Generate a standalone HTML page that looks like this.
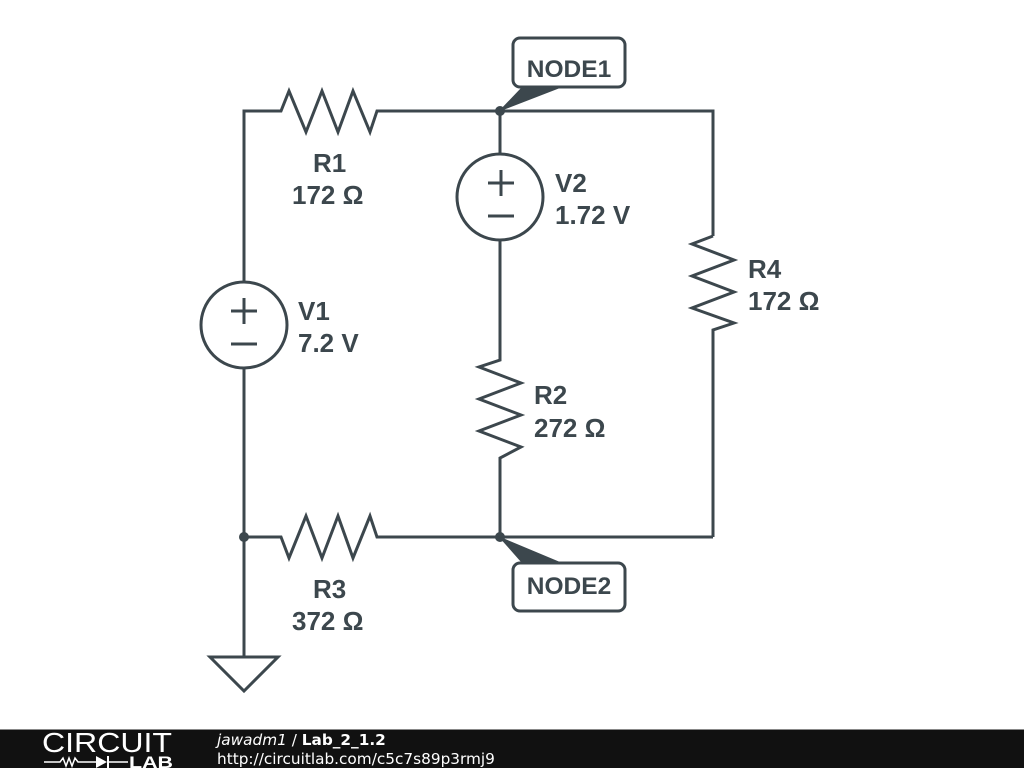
<!DOCTYPE html>
<html><head><meta charset="utf-8"><style>
body{margin:0;width:1024px;height:768px;background:#fff;overflow:hidden;font-family:"Liberation Sans",sans-serif}
</style></head><body>
<svg width="1024" height="768" xmlns="http://www.w3.org/2000/svg" style="position:absolute;left:0;top:0">
<g stroke="#3c474d" stroke-width="3" fill="none" stroke-linejoin="miter">
<polyline points="244,283 244,111 281,111 289,91 306,132 322,91 338,132 353,91 370,132 377,111 713,111 713,236"/>
<polyline points="713,236 692,244 734,260 692,276 734,292 692,308 734,323 713,330 713,537"/>
<polyline points="713,537 500,537"/>
<polyline points="500,537 377,537 370,516 353,558 338,516 322,558 306,516 289,558 281,537 244,537"/>
<polyline points="244,368 244,656"/>
<polyline points="500,111 500,154"/>
<polyline points="500,240 500,360 479,367 521,383 479,399 521,415 479,431 521,447 500,458 500,537"/>
<circle cx="500" cy="197" r="43"/>
<circle cx="244" cy="325" r="43"/>
<polygon points="210,657 278,657 244,691"/>
<line x1="488" y1="183" x2="514" y2="183"/><line x1="501" y1="170" x2="501" y2="196"/>
<line x1="488" y1="216" x2="514" y2="216"/>
<line x1="231" y1="311" x2="257" y2="311"/><line x1="244" y1="298" x2="244" y2="324"/>
<line x1="231" y1="344" x2="257" y2="344"/>
<rect x="513" y="38" width="112" height="49" rx="7" fill="#fff"/>
<rect x="513" y="563" width="112" height="48" rx="7" fill="#fff"/>
</g>
<g fill="#3c474d">
<circle cx="500" cy="111" r="5"/><circle cx="500" cy="537" r="5"/><circle cx="244" cy="537" r="5"/>
<polygon points="498,112 521,88 560,88"/>
<polygon points="498,536 521,562 560,562"/>
</g>
<g fill="#3c474d" font-family="Liberation Sans, sans-serif" font-weight="bold" font-size="26">
<text x="569" y="77" text-anchor="middle" font-size="24.5">NODE1</text>
<text x="569" y="594" text-anchor="middle" font-size="24.5">NODE2</text>
<text x="313" y="172">R1</text><text x="292" y="204">172 Ω</text>
<text x="555" y="192">V2</text><text x="555" y="224">1.72 V</text>
<text x="748" y="278">R4</text><text x="748" y="310">172 Ω</text>
<text x="298" y="320">V1</text><text x="298" y="352">7.2 V</text>
<text x="534" y="404">R2</text><text x="534" y="437">272 Ω</text>
<text x="313" y="598">R3</text><text x="292" y="630">372 Ω</text>
</g>
<rect x="0" y="729" width="1024" height="39" fill="#111"/>
<rect x="0" y="729" width="1024" height="1" fill="#888"/>
<text x="42" y="752" fill="#fff" font-family="Liberation Sans, sans-serif" font-size="28" textLength="130" lengthAdjust="spacingAndGlyphs">CIRCUIT</text>
<polyline points="44,762 60,762 63,758 66,766 69,758 72,766 75,758 78,762 96,762" stroke="#fff" stroke-width="1.5" fill="none"/>
<polygon points="96,756 96,768 107,762" fill="#fff"/><line x1="108" y1="756" x2="108" y2="768" stroke="#fff" stroke-width="2"/>
<line x1="108" y1="762" x2="128" y2="762" stroke="#fff" stroke-width="1.5"/>
<text x="129" y="768" fill="#fff" font-family="Liberation Sans, sans-serif" font-size="17" font-weight="bold" textLength="44" lengthAdjust="spacingAndGlyphs">LAB</text>
<text x="217" y="745" fill="#fff" font-family="DejaVu Sans, sans-serif" font-size="15.3"><tspan font-style="italic">jawadm1</tspan> / <tspan font-weight="bold">Lab_2_1.2</tspan></text>
<text x="217" y="764" fill="#fff" font-family="DejaVu Sans, sans-serif" font-size="15.3">http://circuitlab.com/c5c7s89p3rmj9</text>
</svg>
</body></html>
